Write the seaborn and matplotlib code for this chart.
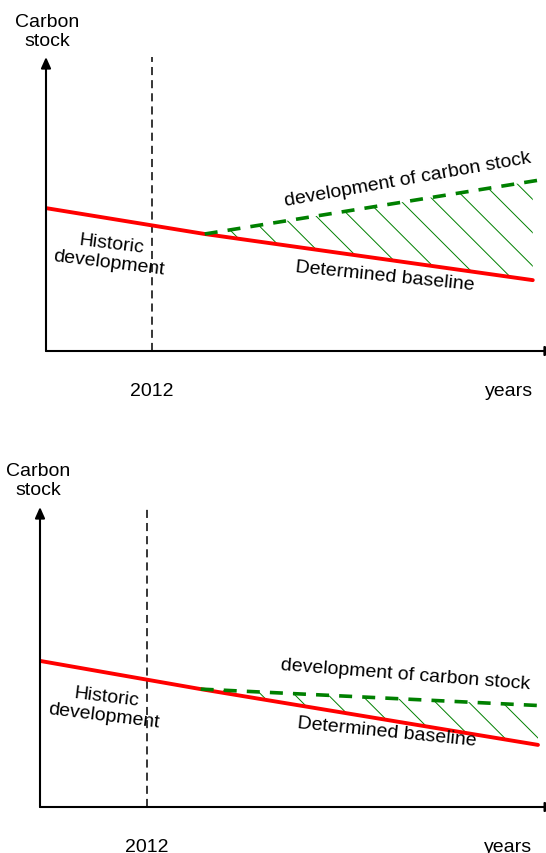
import numpy as np
import matplotlib.pyplot as plt
import seaborn as sns

sns.set_style("white")
plt.rcParams["font.family"] = ["Liberation Sans", "DejaVu Sans"]
plt.rcParams["text.color"] = "black"
plt.rcParams["xtick.color"] = "black"
plt.rcParams["hatch.linewidth"] = 0.7

# schematic values (carbon stock in arbitrary units, 0-100)
ref_year = 2012
x_ticks = [2012, 2025.5]
x_labels = ["2012", "years"]

baseline_years_top = [2008, 2014, 2026.4]
baseline_top = [48.6, 39.8, 24.1]
stock_years = [2014, 2026.9]
stock_top = [39.8, 58.5]

baseline_years_bottom = [2008, 2014, 2026.6]
baseline_bottom = [48.7, 39.3, 20.7]
stock_bottom = [39.3, 33.7]

W, H = 546, 854
fig = plt.figure(figsize=(W / 100, H / 100), dpi=100)
ax_top = fig.add_axes([46 / W, (H - 352) / H, 500 / W, 294 / H])
ax_bot = fig.add_axes([40 / W, (H - 808) / H, 506 / W, 300 / H])


def draw_panel(ax, base_years, base_vals, stock_vals):
    sns.lineplot(x=base_years, y=base_vals, color="#ff0000", linewidth=2.8, ax=ax, zorder=3)
    sns.lineplot(x=stock_years, y=stock_vals, color="#008000", linewidth=2.6, ax=ax, zorder=4)
    ax.lines[-1].set_linestyle((0, (3.6, 2.8)))

    # hatched gap between baseline and actual development
    fill_x = [stock_years[0], base_years[-1]]
    lower = np.interp(fill_x, base_years, base_vals)
    upper = np.interp(fill_x, stock_years, stock_vals)
    ax.fill_between(fill_x, lower, upper, facecolor="none", edgecolor="#008000",
                    hatch="\\", linewidth=0, zorder=2)

    ax.axvline(ref_year, color="black", lw=1.1, linestyle=(0, (5.3, 3.3)), zorder=1)

    ax.set_xlim(2008, 2026.9)
    ax.set_ylim(0, 100)
    for s in ax.spines.values():
        s.set_visible(False)
    ax.set_yticks([])
    ax.set_xticks(x_ticks)
    ax.set_xticklabels(x_labels, fontsize=14, color="black")
    ax.tick_params(axis="x", length=0, pad=22)
    ax.set_xlabel("")
    ax.set_ylabel("")

    arrow = dict(arrowstyle="-|>,head_length=0.65,head_width=0.29", color="black",
                 lw=1.5, shrinkA=0, shrinkB=0)
    ax.annotate("", xy=(0, 1), xytext=(0, 0), xycoords="axes fraction",
                arrowprops=arrow, annotation_clip=False)
    ax.annotate("", xy=(1.02, 0), xytext=(0, 0), xycoords="axes fraction",
                arrowprops=arrow, annotation_clip=False)


draw_panel(ax_top, baseline_years_top, baseline_top, stock_top)
draw_panel(ax_bot, baseline_years_bottom, baseline_bottom, stock_bottom)

txt = dict(fontsize=14, ha="center", va="center", rotation_mode="anchor", color="black")

ax_top.text(0.002, 1.088, "Carbon\nstock", transform=ax_top.transAxes, **txt)
ax_top.text(2010.41, 33.3, "Historic\ndevelopment", rotation=-7, multialignment="center", **txt)
ax_top.text(2020.82, 25.5, "Determined baseline", rotation=-5.8, **txt)
ax_top.text(2021.68, 58.5, "development of carbon stock", rotation=10, **txt)

ax_bot.text(-0.004, 1.09, "Carbon\nstock", transform=ax_bot.transAxes, **txt)
ax_bot.text(2010.42, 33.7, "Historic\ndevelopment", rotation=-7, multialignment="center", **txt)
ax_bot.text(2020.94, 25.3, "Determined baseline", rotation=-5.7, **txt)
ax_bot.text(2021.64, 44.3, "development of carbon stock", rotation=-4.4, **txt)

fig.savefig("out.png", dpi=100)
